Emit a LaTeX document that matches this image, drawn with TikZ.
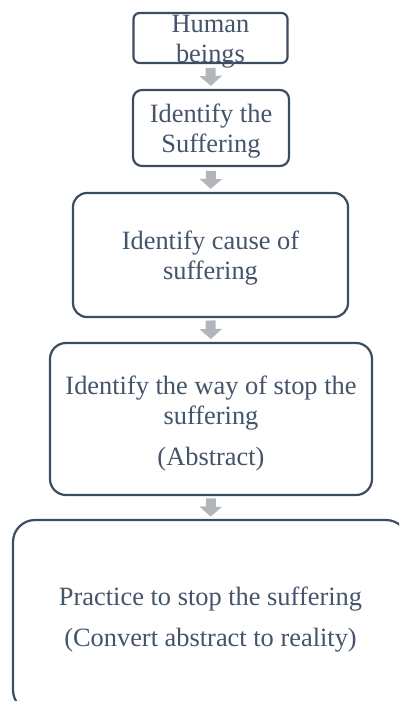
\documentclass[tikz,border=0pt]{standalone}
\usepackage{fontspec}
\setmainfont{Liberation Serif}
\usetikzlibrary{arrows.meta,calc}
\definecolor{boxline}{RGB}{62,76,96}
\definecolor{boxtext}{RGB}{68,84,106}
\definecolor{arrowgray}{RGB}{178,181,186}
\tikzset{
  stepbox/.style={draw=boxline, line width=2.2pt, fill=white, rectangle,
    inner sep=0pt},
  steptext/.style={inner sep=0pt, align=center, text=boxtext,
    font=\fontsize{26.4}{30}\selectfont},
  blockarrow/.style={draw=arrowgray, line width=10pt,
    -{Triangle[width=22pt,length=10pt]}}
}
\begin{document}
\begin{tikzpicture}[x=1pt,y=-1pt]
\useasboundingbox (0,0) rectangle (399,701);
\clip (0,0) rectangle (399,701);
\node[stepbox, minimum width=154pt, minimum height=50pt, rounded corners=6pt] (b1) at (210.5,38) {};
\node[stepbox, minimum width=156pt, minimum height=76pt, rounded corners=9pt] (b2) at (211,128) {};
\node[stepbox, minimum width=275pt, minimum height=124pt, rounded corners=14pt] (b3) at (210.5,255) {};
\node[stepbox, minimum width=322pt, minimum height=152pt, rounded corners=16pt] (b4) at (211,419) {};
\node[stepbox, minimum width=395pt, minimum height=192pt, rounded corners=22pt] (b5) at (210.5,616) {};
\node[steptext] (t1) at ([yshift=-4pt]b1.center) {Human\\beings};
\node[steptext] (t2) at ([yshift=-3pt]b2.center) {Identify the\\Suffering};
\node[steptext] (t3) at ([yshift=-3pt]b3.center) {Identify cause of\\suffering};
\node[steptext] (t4) at ([yshift=-5pt]b4.center) {Identify the way of stop the\\suffering\\[11pt](Abstract)};
\node[steptext] (t5) at ([yshift=-4pt]b5.center) {Practice to stop the suffering\\[11pt](Convert abstract to reality)};
\draw[blockarrow] ($(b1.south)!0.15!(b2.north)$) -- ($(b1.south)!0.88!(b2.north)$);
\draw[blockarrow] ($(b2.south)!0.15!(b3.north)$) -- ($(b2.south)!0.88!(b3.north)$);
\draw[blockarrow] ($(b3.south)!0.10!(b4.north)$) -- ($(b3.south)!0.88!(b4.north)$);
\draw[blockarrow] ($(b4.south)!0.10!(b5.north)$) -- ($(b4.south)!0.90!(b5.north)$);
\end{tikzpicture}
\end{document}
